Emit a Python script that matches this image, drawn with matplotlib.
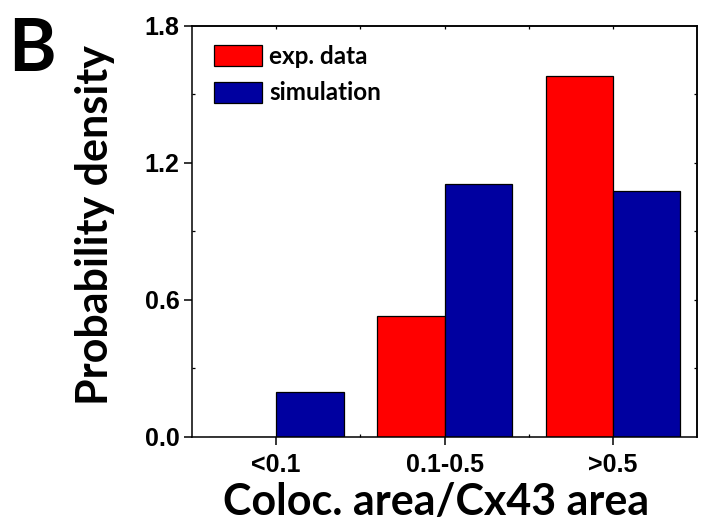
import numpy as np
import matplotlib
matplotlib.use("Agg")
import matplotlib.pyplot as plt
from matplotlib.patches import Patch
from matplotlib.ticker import FixedLocator

# Histogram bins of colocalized area relative to Cx43 area
categories = ["<0.1", "0.1-0.5", ">0.5"]
exp_density = [0.0, 0.529, 1.578]
sim_density = [0.197, 1.107, 1.075]
y_ticks = [0.0, 0.6, 1.2, 1.8]

RED = "#ff0000"
BLUE = "#0000a0"

fig = plt.figure(figsize=(7.02, 5.29), dpi=100)
ax = fig.add_axes([0.2735, 0.1745, 0.7194, 0.7769])

x = np.arange(len(categories))
width = 0.4
ax.bar(x - width / 2, exp_density, width, color=RED, edgecolor="black", linewidth=0.9)
ax.bar(x + width / 2, sim_density, width, color=BLUE, edgecolor="black", linewidth=0.9)

ax.set_xlim(-0.5, 2.5)
ax.set_ylim(0, 1.8)

tick_font = dict(family="Liberation Sans", weight="bold", size=18)
ax.set_xticks(x)
ax.set_xticklabels(categories, fontdict=tick_font)
ax.xaxis.set_minor_locator(FixedLocator([0.5, 1.5]))
ax.set_yticks(y_ticks)
ax.set_yticklabels([f"{v:.1f}" for v in y_ticks], fontdict=tick_font)
ax.yaxis.set_minor_locator(FixedLocator([0.3, 0.9, 1.5]))

ax.tick_params(which="major", direction="out", length=6, width=1.1)
ax.tick_params(axis="x", which="major", pad=6)
ax.tick_params(axis="y", which="major", pad=3)
ax.tick_params(which="minor", direction="in", length=2, width=0.9)
ax.tick_params(which="both", top=False, right=False)

# small inward ticks on the top and right edges
ax_top = ax.secondary_xaxis("top")
ax_top.set_xticks([0, 0.5, 1, 1.5, 2])
ax_top.tick_params(direction="in", length=2, width=0.9, labeltop=False)
ax_right = ax.secondary_yaxis("right")
ax_right.set_yticks([0.3, 0.6, 0.9, 1.2, 1.5])
ax_right.tick_params(direction="in", length=2, width=0.9, labelright=False)
for a in (ax_top, ax_right):
    for s in a.spines.values():
        s.set_linewidth(1.1)

for s in ax.spines.values():
    s.set_linewidth(1.1)

label_font = dict(family="Lato", weight="bold")
ax.set_xlabel("Coloc. area/Cx43 area", fontsize=31, **label_font)
ax.xaxis.set_label_coords(0.484, -0.11, transform=ax.transAxes)
ax.xaxis.label.set_va("top")
ax.set_ylabel("Probability density", fontsize=31, **label_font)
ax.yaxis.set_label_coords(-0.152, 0.515, transform=ax.transAxes)

handles = [Patch(facecolor=RED, edgecolor="black", linewidth=0.9),
           Patch(facecolor=BLUE, edgecolor="black", linewidth=0.9)]
ax.legend(handles, ["exp. data", "simulation"], loc="upper left",
          bbox_to_anchor=(0.044, 0.953), frameon=False, borderaxespad=0,
          borderpad=0, handlelength=1.95, handleheight=0.95,
          handletextpad=0.3, labelspacing=0.55,
          prop=dict(family="Lato", weight="bold", size=17.5))

fig.text(0.012, 0.968, "B", fontsize=52, va="top", ha="left", **label_font)

fig.savefig("out.png", dpi=100)
